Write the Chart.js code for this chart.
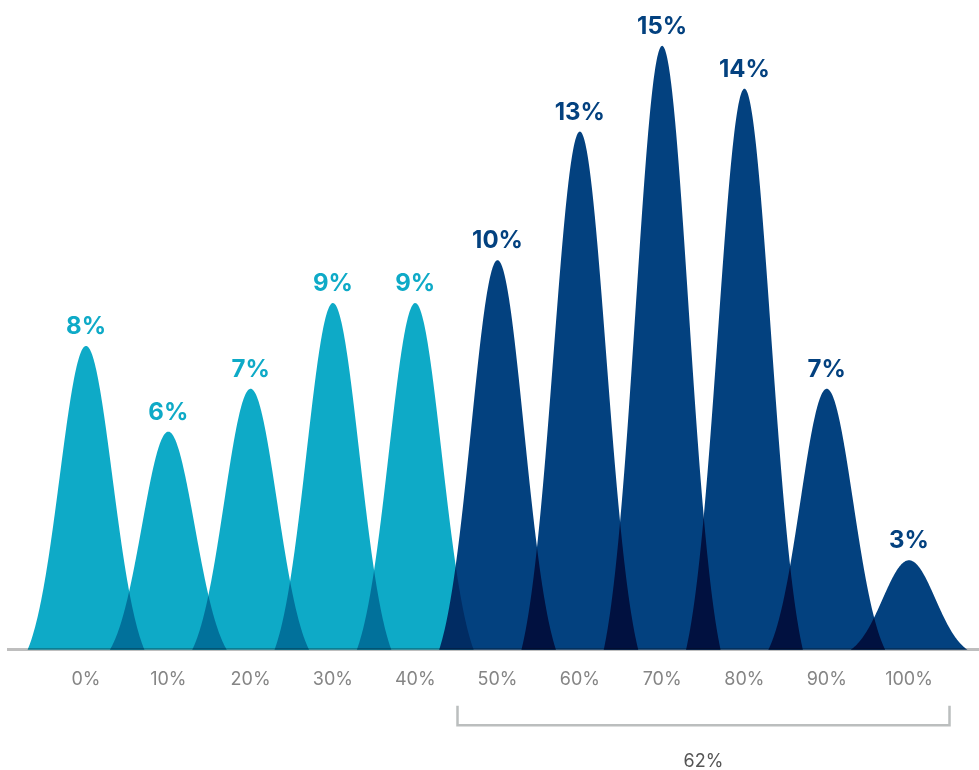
<!DOCTYPE html>
<html>
<head>
<meta charset="utf-8">
<script src="https://cdn.jsdelivr.net/npm/chart.js@4.4.1/dist/chart.umd.min.js"></script>
<style>
  html, body { margin: 0; padding: 0; background: #ffffff; }
  canvas { display: block; }
</style>
</head>
<body>
<canvas id="chart" width="979" height="770"></canvas>
<script>
// Share of respondents at each level (percent)
const categories = ['0%', '10%', '20%', '30%', '40%', '50%', '60%', '70%', '80%', '90%', '100%'];
const shares = [8, 6, 7, 9, 9, 10, 13, 15, 14, 7, 3];
// First and last category covered by the summary bracket
const bracketSpan = [5, 10];

const LIGHT = '#0EAAC7';
const DARK = '#03417F';
const colors = categories.map((c, i) => (i < bracketSpan[0] ? LIGHT : DARK));

// Bell shape, in category units
const BELL_HALF = 0.71;
const BELL_SIGMA = 0.32;

const bellPlugin = {
  id: 'bells',
  beforeDatasetDraw(chart, args) {
    const meta = args.meta;
    const xs = chart.scales.x;
    const ys = chart.scales.y;
    const ctx = chart.ctx;
    const base = ys.getPixelForValue(ys.min);
    const unit = xs.getPixelForValue(1) - xs.getPixelForValue(0);
    const half = BELL_HALF * unit;
    const sigma = BELL_SIGMA * unit;
    const e0 = Math.exp(-half * half / (2 * sigma * sigma));
    ctx.save();
    ctx.globalCompositeOperation = 'multiply';
    meta.data.forEach((bar) => {
      const { x: cx, y: top } = bar.getProps(['x', 'y'], true);
      const h = base - top;
      ctx.beginPath();
      ctx.moveTo(cx - half, base);
      for (let s = -half; s <= half; s += 0.5) {
        const g = (Math.exp(-s * s / (2 * sigma * sigma)) - e0) / (1 - e0);
        ctx.lineTo(cx + s, base - h * g);
      }
      ctx.lineTo(cx + half, base);
      ctx.closePath();
      ctx.fillStyle = bar.options.backgroundColor;
      ctx.fill();
    });
    ctx.restore();
    return false;
  },
  afterDatasetsDraw(chart) {
    const ctx = chart.ctx;
    const meta = chart.getDatasetMeta(0);
    ctx.save();
    ctx.font = '700 24px Inter, "Noto Sans", sans-serif';
    ctx.textAlign = 'center';
    ctx.textBaseline = 'alphabetic';
    meta.data.forEach((bar, i) => {
      const { x: cx, y: top } = bar.getProps(['x', 'y'], true);
      ctx.fillStyle = colors[i];
      ctx.fillText(shares[i] + '%', cx, top - 12);
    });
    ctx.restore();
  },
  afterDraw(chart) {
    const ctx = chart.ctx;
    const xs = chart.scales.x;
    const bottom = chart.chartArea.bottom;
    const left = Math.round(xs.getPixelForValue(bracketSpan[0] - 0.49)) + 0.5;
    const right = Math.round(xs.getPixelForValue(bracketSpan[1] + 0.48)) + 0.5;
    const yTop = bottom + 56;
    const yBar = bottom + 75.5;
    ctx.save();
    ctx.strokeStyle = '#BBBEBE';
    ctx.lineWidth = 2.5;
    ctx.beginPath();
    ctx.moveTo(left, yTop);
    ctx.lineTo(left, yBar);
    ctx.lineTo(right, yBar);
    ctx.lineTo(right, yTop);
    ctx.stroke();

    let total = 0;
    for (let i = bracketSpan[0]; i <= bracketSpan[1]; i++) total += shares[i];
    ctx.fillStyle = '#555555';
    ctx.font = '400 18px Inter, "Noto Sans", sans-serif';
    ctx.textAlign = 'center';
    ctx.textBaseline = 'middle';
    ctx.fillText(total + '%', (left + right) / 2, bottom + 112);
    ctx.restore();
  }
};

new Chart(document.getElementById('chart'), {
  type: 'bar',
  data: {
    datasets: [{
      data: shares.map((v, i) => ({ x: i, y: v })),
      backgroundColor: colors,
      borderWidth: 0
    }]
  },
  options: {
    responsive: false,
    animation: false,
    layout: { padding: { left: 8, right: 0, top: 0, bottom: 60.6 } },
    plugins: { legend: { display: false }, tooltip: { enabled: false } },
    scales: {
      x: {
        type: 'linear',
        offset: false,
        min: -0.948,
        max: 10.85,
        z: 1,
        afterBuildTicks: (axis) => { axis.ticks = categories.map((c, i) => ({ value: i })); },
        ticks: {
          callback: (v) => categories[v],
          color: '#858585',
          font: { family: 'Inter, "Noto Sans", sans-serif', size: 18, weight: '400' },
          padding: 19,
          maxRotation: 0,
          autoSkip: false
        },
        grid: { display: false, drawTicks: false },
        border: { display: true, color: '#BEBEBE', width: 3 }
      },
      y: {
        display: false,
        min: 0.911,
        max: 16.07
      }
    }
  },
  plugins: [bellPlugin]
});
</script>
</body>
</html>
